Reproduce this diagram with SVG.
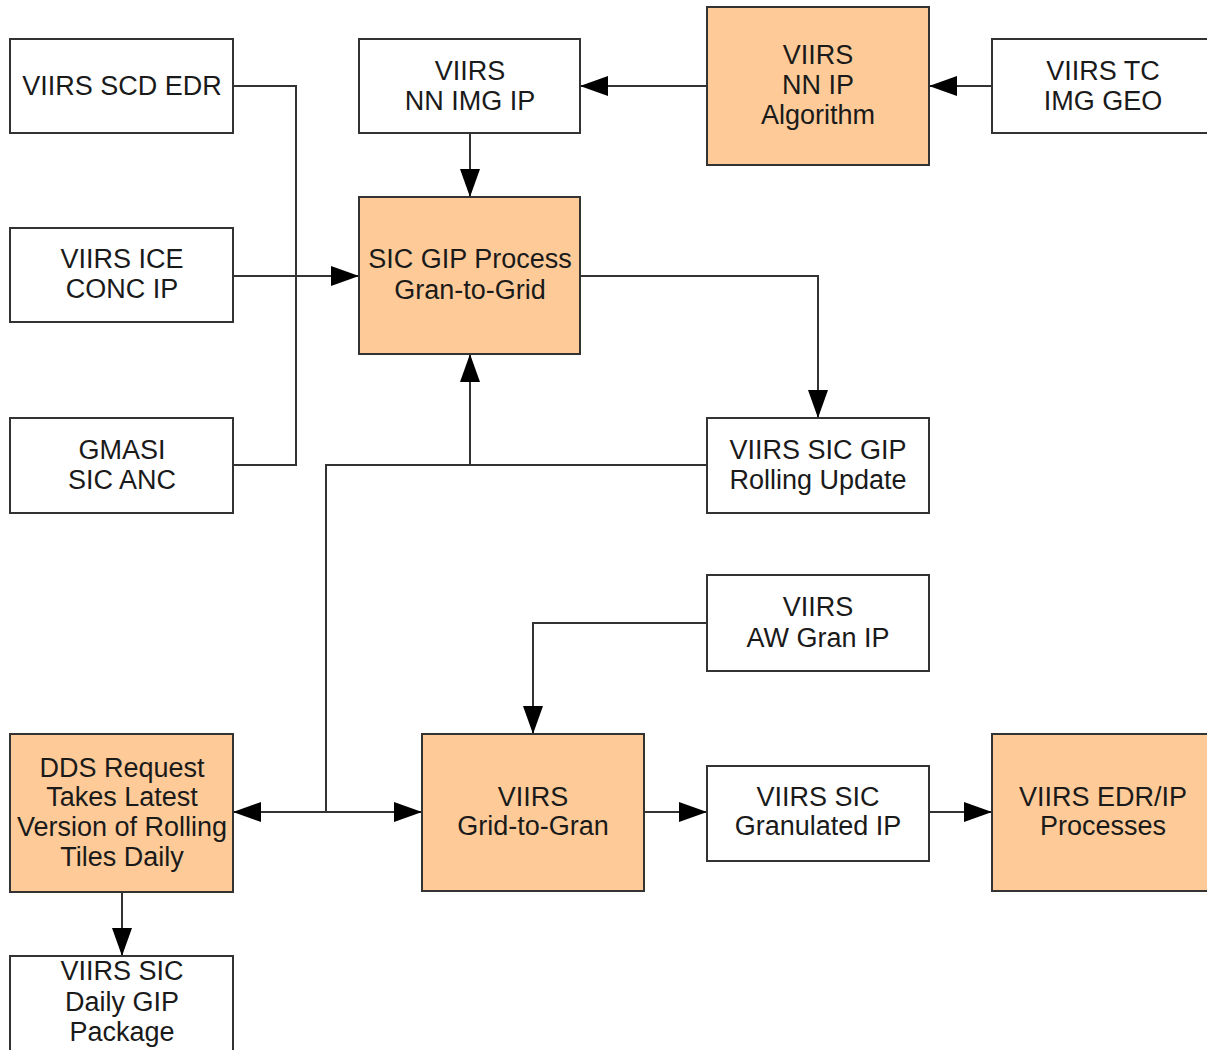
<svg xmlns="http://www.w3.org/2000/svg" width="1207" height="1050" viewBox="0 0 1207 1050">
<style>
.box{fill:#fff;stroke:#333;stroke-width:2}
.proc{fill:#FECB98;stroke:#333;stroke-width:2}
text{font-family:"Liberation Sans",Arial,sans-serif;font-size:27px;fill:#1a1a1a;text-anchor:middle}
.c{fill:none;stroke:#333;stroke-width:2}
</style>
<defs>
<marker id="ah" markerUnits="userSpaceOnUse" markerWidth="30" markerHeight="22" refX="28" refY="11" orient="auto">
<path d="M0,1 L28,11 L0,21 z" fill="#000"/>
</marker>
</defs>
<rect width="1207" height="1050" fill="#fff"/>
<g id="connectors">
<path class="c" d="M233,86 H296 V465 H233"/>
<path class="c" d="M233,276 H359" marker-end="url(#ah)"/>
<path class="c" d="M707,86 H580" marker-end="url(#ah)"/>
<path class="c" d="M992,86 H929" marker-end="url(#ah)"/>
<path class="c" d="M470,133 V197" marker-end="url(#ah)"/>
<path class="c" d="M580,276 H818 V418" marker-end="url(#ah)"/>
<path class="c" d="M707,465 H470 V354" marker-end="url(#ah)"/>
<path class="c" d="M470,465 H326 V812"/>
<path class="c" d="M326,812 H233" marker-end="url(#ah)"/>
<path class="c" d="M326,812 H422" marker-end="url(#ah)"/>
<path class="c" d="M707,623 H533 V734" marker-end="url(#ah)"/>
<path class="c" d="M644,812 H707" marker-end="url(#ah)"/>
<path class="c" d="M929,812 H992" marker-end="url(#ah)"/>
<path class="c" d="M122,892 V956" marker-end="url(#ah)"/>
</g>
<g id="scd-edr"><rect class="box" x="10" y="39" width="223" height="94"/><text x="122" y="95">VIIRS SCD EDR</text></g>
<g id="nn-img-ip"><rect class="box" x="359" y="39" width="221" height="94"/><text x="470" y="80">VIIRS</text><text x="470" y="110">NN IMG IP</text></g>
<g id="nn-ip-alg"><rect class="proc" x="707" y="7" width="222" height="158"/><text x="818" y="64">VIIRS</text><text x="818" y="94">NN IP</text><text x="818" y="124">Algorithm</text></g>
<g id="tc-img-geo"><rect class="box" x="992" y="39" width="222" height="94"/><text x="1103" y="80">VIIRS TC</text><text x="1103" y="110">IMG GEO</text></g>
<g id="ice-conc"><rect class="box" x="10" y="228" width="223" height="94"/><text x="122" y="268">VIIRS ICE</text><text x="122" y="298">CONC IP</text></g>
<g id="sic-gip"><rect class="proc" x="359" y="197" width="221" height="157"/><text x="470" y="268">SIC GIP Process</text><text x="470" y="299">Gran-to-Grid</text></g>
<g id="gmasi"><rect class="box" x="10" y="418" width="223" height="95"/><text x="122" y="459">GMASI</text><text x="122" y="489">SIC ANC</text></g>
<g id="rolling"><rect class="box" x="707" y="418" width="222" height="95"/><text x="818" y="459">VIIRS SIC GIP</text><text x="818" y="489">Rolling Update</text></g>
<g id="aw-gran"><rect class="box" x="707" y="575" width="222" height="96"/><text x="818" y="616">VIIRS</text><text x="818" y="647">AW Gran IP</text></g>
<g id="dds"><rect class="proc" x="10" y="734" width="223" height="158"/><text x="122" y="777">DDS Request</text><text x="122" y="806">Takes Latest</text><text x="122" y="836">Version of Rolling</text><text x="122" y="866">Tiles Daily</text></g>
<g id="grid-to-gran"><rect class="proc" x="422" y="734" width="222" height="157"/><text x="533" y="806">VIIRS</text><text x="533" y="835">Grid-to-Gran</text></g>
<g id="granulated"><rect class="box" x="707" y="766" width="222" height="95"/><text x="818" y="806">VIIRS SIC</text><text x="818" y="835">Granulated IP</text></g>
<g id="edr-ip"><rect class="proc" x="992" y="734" width="222" height="157"/><text x="1103" y="806">VIIRS EDR/IP</text><text x="1103" y="835">Processes</text></g>
<g id="daily-gip"><rect class="box" x="10" y="956" width="223" height="110"/><text x="122" y="980">VIIRS SIC</text><text x="122" y="1011">Daily GIP</text><text x="122" y="1041">Package</text></g>
</svg>
